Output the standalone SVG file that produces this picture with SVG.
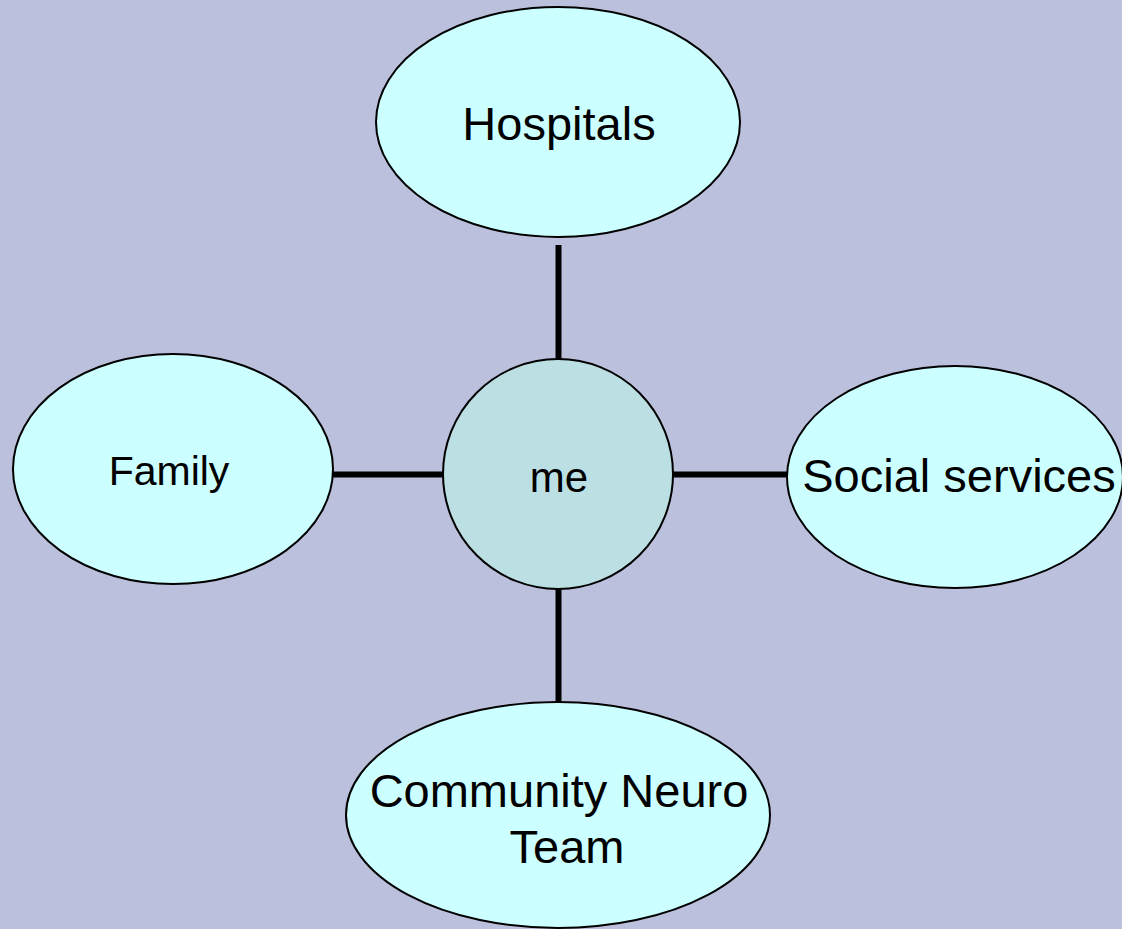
<svg xmlns="http://www.w3.org/2000/svg" width="1122" height="929" viewBox="0 0 1122 929">
<style>
.node{fill:#CCFFFF;stroke:#000;stroke-width:2}
.center{fill:#BBDFE2;stroke:#000;stroke-width:2}
.lbl{font-family:"Liberation Sans",Arial,sans-serif;fill:#000;text-anchor:middle}
.conn{stroke:#000;stroke-width:6;fill:none}
</style>
<rect width="1122" height="929" fill="#BBC1DD"/>
<g id="connectors">
<line class="conn" x1="558.5" y1="245" x2="558.5" y2="359"/>
<line class="conn" x1="558.5" y1="588" x2="558.5" y2="702"/>
<line class="conn" x1="333" y1="474.5" x2="443" y2="474.5"/>
<line class="conn" x1="673" y1="474.5" x2="788" y2="474.5"/>
</g>
<g id="hospitals">
<ellipse class="node" cx="558" cy="122" rx="182" ry="115"/>
<text class="lbl" x="559" y="140" font-size="47">Hospitals</text>
</g>
<g id="family">
<ellipse class="node" cx="173" cy="469" rx="160" ry="115"/>
<text class="lbl" x="169" y="485" font-size="41">Family</text>
</g>
<g id="me">
<circle class="center" cx="558" cy="474" r="115"/>
<text class="lbl" x="559" y="492" font-size="42">me</text>
</g>
<g id="social">
<ellipse class="node" cx="955" cy="477" rx="168" ry="111"/>
<text class="lbl" x="959" y="492" font-size="47">Social services</text>
</g>
<g id="cnt">
<ellipse class="node" cx="558" cy="815" rx="212" ry="113"/>
<text class="lbl" x="559" y="807" font-size="47">Community Neuro</text>
<text class="lbl" x="567" y="863" font-size="47">Team</text>
</g>
</svg>
